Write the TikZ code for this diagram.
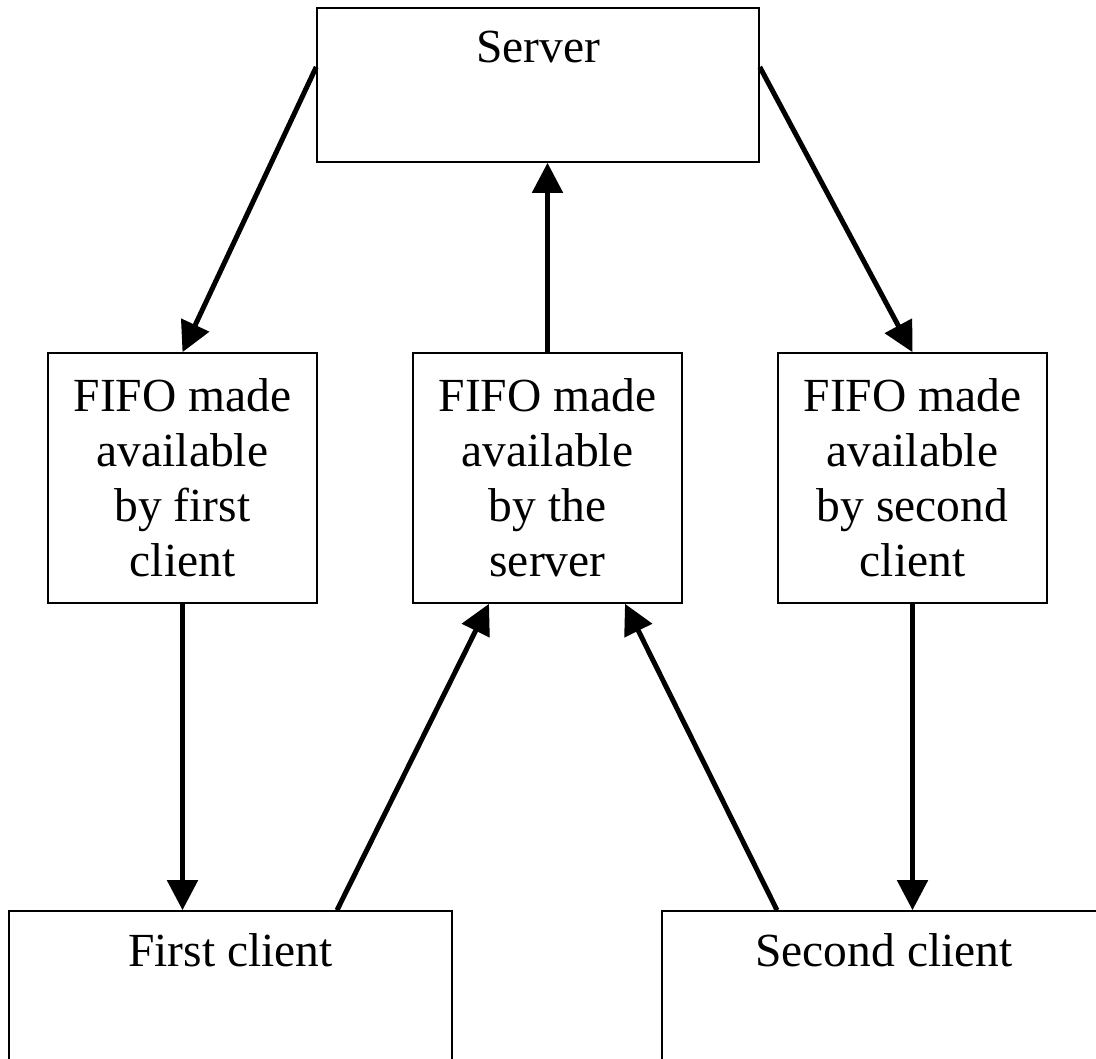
\documentclass[tikz,border=0pt]{standalone}
\usepackage{fontspec}
\setmainfont{Liberation Serif}
\usetikzlibrary{arrows.meta}
\begin{document}
\begin{tikzpicture}[x=1pt,y=-1pt,
  box/.style={draw=black,line width=1.6pt,rectangle,inner sep=0pt,align=center,
    font=\fontsize{47.5}{55}\selectfont},
  lbl/.style={anchor=base,inner sep=0pt,font=\fontsize{47.5}{55}\selectfont},
  conn/.style={line width=5pt,-{Triangle[length=30pt,width=30pt]}}]
\path[use as bounding box,clip] (0,0) rectangle (1096,1059);
\fill[white] (0,0) rectangle (1096,1059);
% boxes
\node[box,minimum width=442pt,minimum height=154pt] (srv) at (538,85) {};
\node[lbl] (srvt) at (538,63) {Server};
\node[box,minimum width=269pt,minimum height=250pt] (f1) at (182.5,478) {FIFO made\\available\\by first\\client};
\node[box,minimum width=269pt,minimum height=250pt] (f2) at (547.5,478) {FIFO made\\available\\by the\\server};
\node[box,minimum width=269pt,minimum height=250pt] (f3) at (912.5,478) {FIFO made\\available\\by second\\client};
\node[box,minimum width=443pt,minimum height=300pt] (c1) at (230.5,1061) {};
\node[lbl] (c1t) at (230.5,966) {First client};
\node[box,minimum width=444pt,minimum height=300pt] (c2) at (884,1061) {};
\node[lbl] (c2t) at (884,966) {Second client};
% connectors
\draw[conn] ([yshift=18pt]srv.west) -- (f1.north);
\draw[conn] ([yshift=18pt]srv.east) -- (f3.north);
\draw[conn] (f2.north) -- (f2.north |- srv.south);
\draw[conn] (f1.south) -- (f1.south |- c1.north);
\draw[conn] (f3.south) -- (f3.south |- c2.north);
\draw[conn] ([xshift=106.5pt]c1.north) -- ([xshift=-58.5pt]f2.south);
\draw[conn] ([xshift=-107pt]c2.north) -- ([xshift=77.5pt]f2.south);
\end{tikzpicture}
\end{document}
